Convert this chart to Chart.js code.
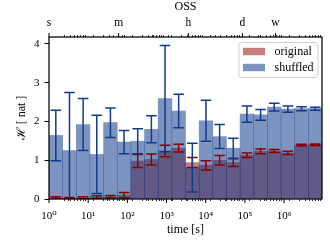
<!DOCTYPE html>
<html>
<head>
<meta charset="utf-8">
<script src="https://cdn.jsdelivr.net/npm/chart.js@4.4.0/dist/chart.umd.min.js"></script>
<style>
  html, body { margin: 0; padding: 0; background: #fff; }
  #wrap { width: 330px; height: 250px; }
</style>
</head>
<body>
<div id="wrap"><canvas id="entropyChart"></canvas></div>
<script>
// Bin left edges in seconds (20 log-spaced bins)
const binEdges = ["1", "2.2", "4.9", "11", "24", "54", "121", "270", "603", "1348", "3011", "6726", "15025", "33563", "74970", "167466", "374083", "835624", "1866602", "4169584"];

// Entropy per bin
const originalValues = [0.03, 0.02, 0.03, 0.05, 0.06, 0.10, 0.98, 1.02, 1.24, 1.31, 0.94, 0.87, 1.00, 0.94, 1.13, 1.23, 1.24, 1.19, 1.39, 1.40];
const originalErr    = [0.03, 0.02, 0.025, 0.035, 0.03, 0.07, 0.17, 0.14, 0.15, 0.10, 0.13, 0.12, 0.12, 0.10, 0.06, 0.06, 0.04, 0.04, 0.02, 0.02];
const shuffledValues = [1.64, 1.25, 1.92, 1.15, 1.97, 1.47, 1.49, 1.80, 2.59, 2.27, 0.81, 2.02, 1.61, 1.31, 2.19, 2.17, 2.37, 2.32, 2.33, 2.33];
const shuffledErr    = [0.65, 1.50, 0.67, 1.01, 0.38, 0.30, 0.32, 0.35, 1.37, 0.43, 0.63, 0.53, 0.31, 0.26, 0.21, 0.14, 0.10, 0.08, 0.05, 0.04];

// Axis ticks
const yTicks = [0, 1, 2, 3, 4];
const decadeTicks = [1, 10, 100, 1e3, 1e4, 1e5, 1e6];
const decadeLabels = ["10\u2070", "10\u00b9", "10\u00b2", "10\u00b3", "10\u2074", "10\u2075", "10\u2076"];
const unitTicks = [1, 60, 3600, 86400, 604800];
const unitLabels = ["s", "m", "h", "d", "w"];

const X_MIN = 1;
const X_MAX = 9.3e6;
const FONT = "'Liberation Serif', 'DejaVu Serif', serif";

// Minor log ticks 2..9 x 10^n
function minorTicks() {
  const out = [];
  for (let e = 0; e < 7; e++) {
    for (let m = 2; m <= 9; m++) {
      const v = m * Math.pow(10, e);
      if (v < X_MAX) out.push(v);
    }
  }
  return out;
}

function findTick(list, v) {
  return list.findIndex(t => Math.abs(t - v) / t < 1e-6);
}

// Error bars drawn on top of the bars (red first, blue over it)
const errorBarPlugin = {
  id: "errorBars",
  afterDatasetsDraw(chart) {
    const { ctx, chartArea, scales } = chart;
    ctx.save();
    ctx.beginPath();
    ctx.rect(chartArea.left, chartArea.top, chartArea.right - chartArea.left, chartArea.bottom - chartArea.top);
    ctx.clip();
    chart.data.datasets.forEach((ds, i) => {
      const meta = chart.getDatasetMeta(i);
      ctx.strokeStyle = ds.errorColor;
      ctx.lineWidth = 1.5;
      meta.data.forEach((bar, j) => {
        const v = ds.data[j];
        const e = ds.errors[j];
        const yTop = scales.y.getPixelForValue(v + e);
        const yBot = scales.y.getPixelForValue(v - e);
        const x = bar.x;
        ctx.beginPath();
        ctx.moveTo(x, yTop);
        ctx.lineTo(x, yBot);
        ctx.moveTo(x - 5.3, yTop);
        ctx.lineTo(x + 5.3, yTop);
        ctx.moveTo(x - 5.3, yBot);
        ctx.lineTo(x + 5.3, yBot);
        ctx.stroke();
      });
    });
    ctx.restore();
  }
};

// Frame, longer major ticks and the legend box
const decorPlugin = {
  id: "decor",
  afterDraw(chart) {
    const { ctx, chartArea, scales } = chart;
    const a = chartArea;
    ctx.save();
    ctx.strokeStyle = "#000";
    ctx.lineWidth = 1.25;
    ctx.strokeRect(a.left, a.top, a.right - a.left, a.bottom - a.top);

    ctx.lineWidth = 1;
    ctx.beginPath();
    decadeTicks.forEach(v => {
      const x = scales.xLog.getPixelForValue(v);
      ctx.moveTo(x, a.bottom);
      ctx.lineTo(x, a.bottom + 4);
    });
    unitTicks.forEach(v => {
      const x = scales.xTop.getPixelForValue(v);
      ctx.moveTo(x, a.top);
      ctx.lineTo(x, a.top - 4);
    });
    ctx.stroke();

    // legend
    const boxW = 79, boxH = 35;
    const bx = a.right - 4 - boxW;
    const by = a.top + 5.5;
    ctx.beginPath();
    ctx.roundRect(bx, by, boxW, boxH, 3);
    ctx.fillStyle = "rgba(255,255,255,0.8)";
    ctx.fill();
    ctx.strokeStyle = "#d0d0d0";
    ctx.lineWidth = 1;
    ctx.stroke();

    ctx.font = "12px " + FONT;
    ctx.textBaseline = "middle";
    ctx.textAlign = "left";
    chart.data.datasets.forEach((ds, i) => {
      const cy = by + 9 + i * 16;
      ctx.fillStyle = "#fff";
      ctx.fillRect(bx + 4, cy - 3.7, 22, 7.4);
      ctx.fillStyle = ds.backgroundColor;
      ctx.fillRect(bx + 4, cy - 3.7, 22, 7.4);
      ctx.fillStyle = "#000";
      ctx.fillText(ds.label, bx + 35.5, cy);
    });
    ctx.restore();
  }
};

function buildChart() {
  const canvas = document.getElementById("entropyChart");
  Chart.defaults.font.family = FONT;
  Chart.defaults.color = "#000";

  new Chart(canvas, {
    type: "bar",
    data: {
      labels: binEdges,
      datasets: [
        {
          label: "original",
          data: originalValues,
          errors: originalErr,
          errorColor: "#8b0000",
          backgroundColor: "rgba(139,0,0,0.5)",
          borderWidth: 0,
          barPercentage: 1,
          categoryPercentage: 1,
          grouped: false,
          order: 1
        },
        {
          label: "shuffled",
          data: shuffledValues,
          errors: shuffledErr,
          errorColor: "#113c8c",
          backgroundColor: "rgba(18,60,140,0.55)",
          borderWidth: 0,
          barPercentage: 1,
          categoryPercentage: 1,
          grouped: false,
          order: 0
        }
      ]
    },
    options: {
      responsive: true,
      maintainAspectRatio: false,
      animation: false,
      events: [],
      layout: { padding: { left: 0, right: 8, top: 0, bottom: 0 } },
      plugins: {
        legend: { display: false },
        tooltip: { enabled: false }
      },
      scales: {
        x: {
          type: "category",
          display: false,
          offset: true
        },
        xLog: {
          type: "logarithmic",
          position: "bottom",
          min: X_MIN,
          max: X_MAX,
          afterBuildTicks: scale => {
            scale.ticks = decadeTicks.concat(minorTicks().filter(v => findTick(decadeTicks, v) < 0))
              .map(v => ({ value: v }));
          },
          afterFit: scale => { scale.height = 51; },
          grid: { drawOnChartArea: false, tickLength: 2, tickColor: "#000", tickWidth: 0.8 },
          border: { display: false },
          ticks: {
            autoSkip: false,
            maxRotation: 0,
            padding: 8.5,
            font: { size: 11 },
            callback: v => {
              const i = findTick(decadeTicks, v);
              return i >= 0 ? decadeLabels[i] : "";
            }
          },
          title: {
            display: true,
            text: "time [s]",
            font: { size: 12 },
            padding: { top: 0, bottom: 13 }
          }
        },
        xTop: {
          type: "logarithmic",
          position: "top",
          min: X_MIN,
          max: X_MAX,
          afterBuildTicks: scale => {
            scale.ticks = unitTicks.concat(minorTicks().filter(v => findTick(unitTicks, v) < 0))
              .map(v => ({ value: v }));
          },
          afterFit: scale => { scale.height = 37; },
          grid: { drawOnChartArea: false, tickLength: 2, tickColor: "#000", tickWidth: 0.8 },
          border: { display: false },
          ticks: {
            autoSkip: false,
            maxRotation: 0,
            padding: 5.5,
            font: { size: 11.5 },
            callback: v => {
              const i = findTick(unitTicks, v);
              return i >= 0 ? unitLabels[i] : "";
            }
          },
          title: {
            display: true,
            text: "OSS",
            font: { size: 12 },
            padding: { top: 0, bottom: 0 }
          }
        },
        y: {
          min: 0,
          max: 4.18,
          afterBuildTicks: scale => {
            scale.ticks = yTicks.map(v => ({ value: v }));
          },
          afterFit: scale => { scale.width = 49; },
          grid: { drawOnChartArea: false, tickLength: 4.5, tickColor: "#000", tickWidth: 1 },
          border: { display: false },
          ticks: { padding: 5, font: { size: 11 } },
          title: {
            display: true,
            text: "\u210b [ nat ]",
            font: { size: 12 },
            padding: { top: 15, bottom: 0 }
          }
        }
      }
    },
    plugins: [errorBarPlugin, decorPlugin]
  });
}

if (document.readyState === "loading") {
  document.addEventListener("DOMContentLoaded", buildChart);
} else {
  buildChart();
}
</script>
</body>
</html>
